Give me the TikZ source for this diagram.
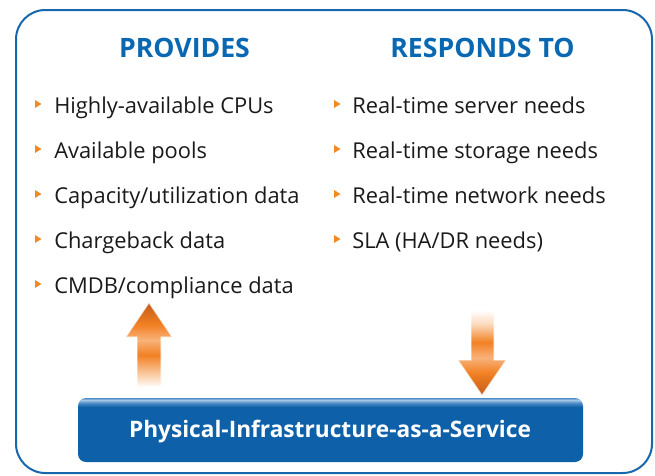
\documentclass[tikz,border=0pt]{standalone}
\usepackage{fontspec}
\setmainfont{Open Sans}
\usetikzlibrary{positioning}

\definecolor{frameblue}{HTML}{1767AC}
\definecolor{headblue}{HTML}{0A68B2}
\definecolor{barblue}{HTML}{0E61A8}
\definecolor{barrim}{HTML}{A9C8E7}
\definecolor{barlight}{HTML}{4C8AC7}
\definecolor{tiporange}{HTML}{C45B1A}
\definecolor{arroworange}{HTML}{F28124}
\definecolor{paleorange}{HTML}{F8B27A}
\definecolor{fadeorange}{HTML}{FCDCC0}
\definecolor{bulletorange}{HTML}{F08A24}
\definecolor{itemtext}{HTML}{1A1A1A}

% shadings, bottom to top
\pgfdeclareverticalshading{barshade}{100bp}{color(0bp)=(barblue); color(25bp)=(barblue); color(68bp)=(barblue); color(71bp)=(barlight); color(73.5bp)=(barrim); color(75bp)=(barlight); color(100bp)=(barlight)}
\pgfdeclareverticalshading{upshade}{100bp}{color(0bp)=(white); color(25bp)=(white); color(30bp)=(fadeorange); color(44bp)=(arroworange); color(53bp)=(paleorange); color(62bp)=(arroworange); color(75bp)=(tiporange); color(100bp)=(tiporange)}
\pgfdeclareverticalshading{downshade}{100bp}{color(0bp)=(tiporange); color(25bp)=(tiporange); color(38bp)=(arroworange); color(47bp)=(paleorange); color(56bp)=(arroworange); color(67bp)=(fadeorange); color(75bp)=(white); color(100bp)=(white)}

\begin{document}
\begin{tikzpicture}[x=0.75pt, y=-0.75pt,
    heading/.style={anchor=base, inner sep=0pt, text=headblue, font=\bfseries\fontsize{20}{24}\selectfont},
    item/.style={anchor=base west, inner sep=0pt, text=itemtext, font=\fontsize{16.4}{19}\selectfont},
    bulletmark/.style={fill=bulletorange},
    bigarrow/.style={draw=white, draw opacity=0.55, line width=0.8pt}]
    \useasboundingbox (0,0) rectangle (655,475);

    % outer frame
    \draw[frameblue, line width=1.5pt, rounded corners=22pt] (16,10) rectangle (652,473);

    % headings
    \node[heading] (provides) at (184.5,57) {PROVIDES};
    \node[heading] (responds) at (482.5,57) {RESPONDS TO};

    % left list
    \foreach \txt [count=\i] in {Highly-available CPUs, Available pools, Capacity/utilization data, Chargeback data, CMDB/compliance data} {
        \node[item] (p\i) at (54,68+\i*45) {\txt};
        \fill[bulletmark] (35,68+\i*45-13) -- (35,68+\i*45-5) -- (41.5,68+\i*45-9) -- cycle;
    }

    % right list
    \foreach \txt [count=\i] in {Real-time server needs, Real-time storage needs, Real-time network needs, SLA (HA/DR needs)} {
        \node[item] (r\i) at (352,68+\i*45) {\txt};
        \fill[bulletmark] (334,68+\i*45-13) -- (334,68+\i*45-5) -- (340.5,68+\i*45-9) -- cycle;
    }

    % service bar
    \node[draw=none, rounded corners=6pt, minimum width=505*0.75pt, minimum height=64*0.75pt,
          shading=barshade, inner sep=0pt] (bar) at (330.5,430) {};
    \node[text=white, font=\bfseries\fontsize{17}{20}\selectfont, anchor=base] (barlabel) at (330,437) {Physical-Infrastructure-as-a-Service};

    % up arrow
    \path[bigarrow, shading=upshade]
        (137,387) -- (137,337) -- (126,337) -- (149,303) -- (172,337) -- (161,337) -- (161,387) -- cycle;

    % down arrow
    \path[bigarrow, shading=downshade]
        (471,310) -- (471,360) -- (458,360) -- (482,395) -- (506,360) -- (494,360) -- (494,310) -- cycle;
\end{tikzpicture}
\end{document}
